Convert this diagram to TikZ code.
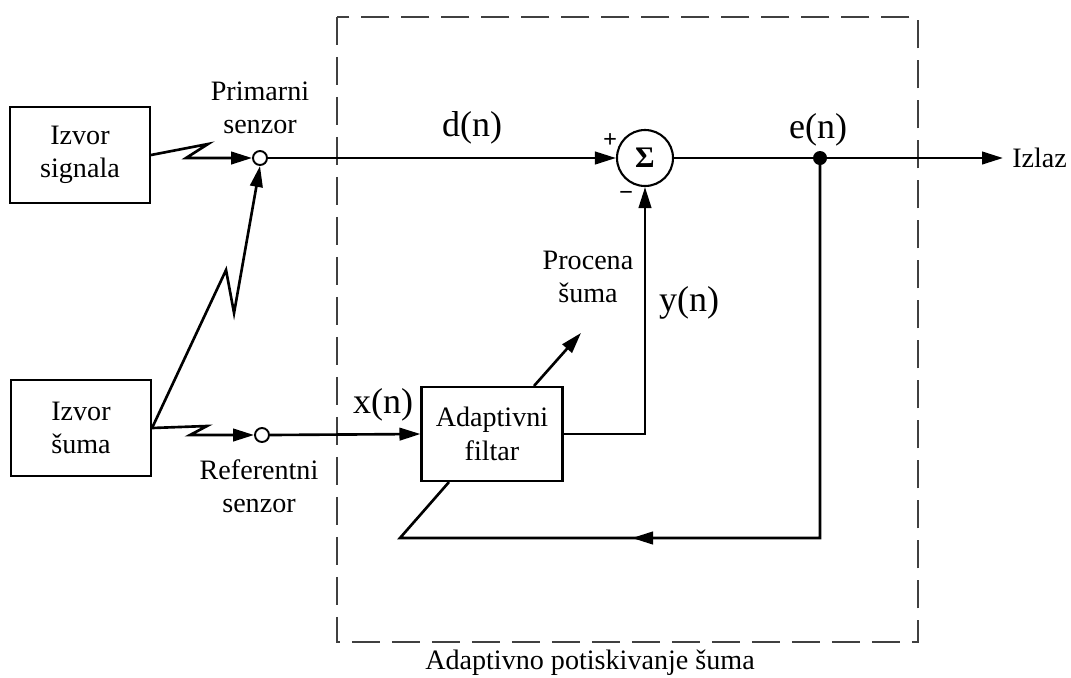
\documentclass[tikz,border=0pt]{standalone}
\usepackage{fontspec}
\setmainfont{Liberation Serif}
\usetikzlibrary{arrows.meta,positioning,calc}
\newcommand{\lblfont}{\fontsize{16}{19}\selectfont}
\newcommand{\sigfont}{\fontsize{20.5}{24}\selectfont}

\begin{document}
\begin{tikzpicture}[x=0.02cm, y=-0.02cm, line width=1.5pt,
  blok/.style={draw, line width=1.2pt, minimum width=2.8cm, minimum height=1.92cm,
               align=center, font=\lblfont},
  senz/.style={circle, draw, line width=1.1pt, minimum size=0.28cm, inner sep=0pt},
  ptr/.style={-{Triangle[length=4.2mm, width=2.5mm]}},
  lbl/.style={font=\lblfont, align=center},
  sig/.style={font=\sigfont},
  znak/.style={font=\fontsize{14}{16}\selectfont\bfseries, inner sep=0pt},
  okvir/.style={draw=black!75, line width=1.4pt, dash pattern=on 0.56cm off 0.24cm}]
  \useasboundingbox (0,0) rectangle (1071,677);
  % adaptive block frame
  \draw[okvir] (337,17) rectangle (918,642);
  \node[lbl] (naslov) at (590,663) {Adaptivno potiskivanje šuma};
  % sources and sensors
  \node[blok] (izvsig) at (80,155) {Izvor\\signala};
  \node[blok] (izvsum) at (81,428) {Izvor\\šuma};
  \node[senz] (prim) at (260,158) {};
  \node[senz] (ref) at (262,435) {};
  \node[lbl] (primtxt) at (260,108) {Primarni\\senzor};
  \node[lbl] (reftxt) at (259,486) {Referentni\\senzor};
  % filter and summer
  \node[blok, minimum width=2.82cm, minimum height=1.88cm] (filt) at (492,434) {Adaptivni\\filtar};
  \node[circle, draw, line width=1.2pt, minimum size=1.12cm, inner sep=0pt,
        font=\fontsize{17}{20}\selectfont\bfseries] (sum) at (645,158) {Σ};
  \node[circle, fill, minimum size=0.28cm, inner sep=0pt] (cvor) at (820,158) {};
  \node[lbl, anchor=west, inner xsep=0.16cm, inner ysep=0pt] (izlaz) at (1003,158) {Izlaz};
  % signal labels
  \node[sig] (dn) at (472,128) {d(n)};
  \node[sig] (en) at (818,130) {e(n)};
  \node[sig] (xn) at (383,405) {x(n)};
  \node[sig] (yn) at (689,303) {y(n)};
  \node[lbl] (proc) at (588,277) {Procena\\šuma};
  \node[znak] (plus) at (610,141) {+};
  \node[znak] (minus) at (626,196) {−};
  % zig-zag paths to the sensors
  \draw[ptr] (izvsig.east) -- ++(57,-11) -- ++(-22,14) -- (prim.west);
  \draw[ptr] (izvsum.east) -- ++(55,-2) -- ++(-17,9) -- (ref.west);
  \draw[ptr] (izvsum.east) -- ++(74,-158) -- ++(8,43) -- (prim.south);
  % main paths
  \draw[ptr] (prim.east) -- (sum.west);
  \draw[ptr] (ref.east) -- (filt.west);
  \draw[ptr] (filt.east) -| (sum.south);
  \draw[ptr] (sum.east) -- (izlaz.west);
  \draw[ptr] ($(filt.north)+(42,0)$) -- ++(47,-53);
  % feedback
  \coordinate (fbR) at (cvor |- 0,538);
  \coordinate (fbL) at (400,538);
  \coordinate (fbM) at (632,538);
  \draw (cvor.center) -- (fbR) -- (fbL) -- ($(filt.south)+(-43,0)$);
  \draw[ptr] (fbR) -- (fbM);
\end{tikzpicture}
\end{document}
